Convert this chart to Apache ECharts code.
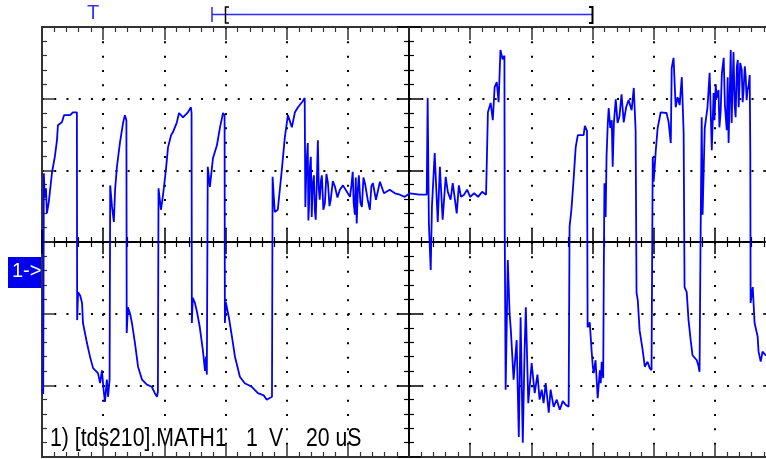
<!DOCTYPE html>
<html lang="en">
<head>
<meta charset="UTF-8" />
<title>tds210 MATH1</title>
<script src="https://cdn.jsdelivr.net/npm/echarts@6/dist/echarts.min.js"></script>
<style>
  * { margin: 0; padding: 0; box-sizing: border-box; }
  html, body { width: 766px; height: 459px; overflow: hidden; background: #fff; }
  /* screen grid is 12 divisions wide, the last few px fall off the window */
  #chart { width: 776px; height: 459px; }
</style>
</head>
<body>
<div id="chart"></div>
<script>
/* ---------- scope settings ---------- */
const timePerDiv = 20;   // uS / div
const timeDivs = 12;
const voltsPerDiv = 1;   // V / div
const voltDivs = 6;
const channelTag = "1->";
const readout = ["1) [tds210].MATH1", "1", "V", "20 uS"];

/* ---------- trace: [time uS, volts] ---------- */
const trace = [
  [0.0,-2.05],[0.4,-2.12],[0.6,0.96],[0.9,0.62],[1.3,0.75],[1.6,0.40],[2.2,0.55],[3.3,0.98],[4.2,1.19],[4.9,1.42],
  [5.2,1.63],[6.5,1.67],[7.2,1.77],[9.2,1.77],[10.1,1.81],[11.4,1.81],
  [11.5,-1.09],[11.8,-0.70],[12.5,-0.75],[13.1,-0.85],[13.4,-1.13],[14.7,-1.41],[15.7,-1.60],[16.7,-1.76],[18.3,-1.83],
  [19.0,-1.97],[19.6,-1.79],[20.1,-2.05],[20.6,-2.23],[21.2,-1.92],[21.6,-2.16],[22.1,-1.92],
  [22.3,0.79],[22.9,0.49],[23.5,0.28],[23.9,0.73],[24.5,1.05],[25.5,1.39],[26.5,1.66],[27.1,1.77],[27.6,1.70],
  [27.7,-1.27],[28.1,-0.91],[28.8,-1.00],[29.4,-1.13],[30.4,-1.41],[31.4,-1.74],[32.7,-1.92],[34.3,-1.99],[35.9,-2.02],
  [36.9,-2.11],[37.6,-2.16],[37.9,-2.09],
  [38.1,0.75],[38.9,0.45],[39.5,0.63],[40.5,1.00],[41.2,1.32],[42.2,1.49],[42.8,1.53],[44.1,1.67],[44.8,1.80],
  [46.1,1.74],[47.7,1.81],[48.7,1.88],[48.9,1.80],
  [49.0,-1.13],[49.3,-0.78],[50.0,-0.85],[50.7,-0.98],[51.6,-1.19],[52.6,-1.51],[53.3,-1.80],[53.6,-1.60],[53.9,-1.85],[54.1,-1.85],
  [54.2,1.05],[54.9,0.77],[55.9,1.17],[57.2,1.35],[58.2,1.60],[59.2,1.80],[59.7,1.77],
  [59.8,-1.13],[60.1,-0.84],[61.1,-1.05],[62.1,-1.32],[63.1,-1.60],[64.7,-1.88],[66.3,-1.97],[68.6,-2.02],[70.6,-2.11],
  [72.5,-2.14],[73.5,-2.20],[75.2,-2.16],
  [75.4,0.91],[76.1,0.42],[77.1,0.45],[78.4,1.00],[79.4,1.46],[80.4,1.77],[81.7,1.60],[82.7,1.81],[83.7,1.88],[85.0,1.95],[85.9,2.01],
  [86.1,0.49],[86.5,1.10],[86.9,1.38],[87.1,0.30],[87.3,0.49],[87.6,1.05],[87.9,1.19],[88.2,0.35],[88.5,0.80],[88.9,0.93],
  [89.2,0.45],[89.5,0.31],[89.9,0.90],[90.2,1.42],[90.5,0.75],[90.8,0.59],[91.2,0.85],[91.5,0.93],[92.0,0.45],[92.5,0.54],
  [93.0,0.95],[93.5,0.82],[94.0,0.50],[94.4,0.59],[95.1,0.85],[95.8,0.77],[96.6,0.62],[97.4,0.73],[98.4,0.79],[99.7,0.70],
  [100.7,0.63],[101.2,0.80],[101.6,0.98],[101.9,0.55],[102.3,0.38],[102.6,0.90],[102.9,0.26],[103.3,0.75],[103.6,0.93],
  [104.1,0.55],[104.6,0.49],[105.1,0.90],[105.6,0.82],[106.5,0.59],[107.2,0.45],[107.7,0.78],[108.2,0.82],[109.2,0.59],
  [110.5,0.84],[111.8,0.68],[113.7,0.73],[115.4,0.68],[117.0,0.66],[118.6,0.63],[120.3,0.68],[123.5,0.66],[125.8,0.66],
  [126.1,2.01],[126.5,0.26],[127.1,-0.39],[127.5,0.49],[128.4,1.24],[129.4,0.28],[130.1,1.05],[131.0,0.31],[132.0,0.91],
  [132.7,0.70],[133.6,0.59],[134.3,0.82],[134.9,0.63],[135.6,0.40],[136.3,0.79],[137.0,0.63],[138.0,0.66],[139.0,0.73],
  [140.0,0.63],[141.3,0.68],[142.6,0.63],[143.9,0.70],[145.2,0.66],[145.6,0.66],
  [145.8,1.81],[146.7,1.94],[147.4,1.70],[148.0,2.16],[148.7,2.23],[149.3,1.95],[149.9,2.68],[150.6,2.55],[151.2,2.60],
  [151.3,0.21],[151.6,-2.06],[152.3,-0.25],[152.9,-1.00],[153.3,-1.23],[154.2,-1.92],[155.2,-1.37],[155.9,-2.72],[156.5,-1.05],
  [157.2,-2.80],[157.8,-1.50],[158.2,-0.91],[159.0,-2.25],[160.1,-1.69],[161.1,-2.11],[162.0,-1.85],[162.7,-2.20],[163.4,-2.06],
  [164.0,-2.25],[164.7,-1.97],[165.7,-2.38],[166.3,-2.06],[167.3,-2.30],[168.3,-2.20],[169.3,-2.34],[170.3,-2.22],[171.2,-2.27],[172.2,-2.30],
  [172.5,0.21],[173.1,0.45],[173.8,0.86],[174.5,1.32],[175.2,1.49],[177.1,1.49],[177.5,1.62],[178.2,1.55],
  [178.4,-1.19],[179.1,-1.12],[179.7,-1.51],[180.1,-1.74],[180.4,-1.83],[181.0,-1.65],[181.7,-2.18],[182.4,-1.79],[182.7,-1.97],
  [183.0,-1.67],[183.5,-1.90],
  [183.7,-0.39],[183.9,0.82],[184.3,0.35],[184.6,1.20],[185.0,1.66],[185.3,1.87],[185.8,1.59],[186.3,1.70],[186.6,1.05],
  [187.0,1.66],[187.6,1.99],[188.2,1.66],[188.8,1.75],[189.5,2.06],[190.2,1.67],[191.0,1.88],[191.8,1.98],[192.8,1.84],
  [193.5,2.15],[194.1,1.56],
  [194.4,-0.71],[194.8,-0.81],[195.4,-1.23],[196.4,-1.51],[197.1,-1.74],[198.0,-1.67],[198.7,-1.76],[199.3,-1.79],[199.6,-1.79],
  [199.7,1.19],[200.0,0.84],[200.7,1.28],[201.3,1.59],[202.3,1.81],[204.2,1.80],[204.9,1.67],[205.6,1.38],[205.9,2.43],
  [206.5,2.57],[207.2,1.88],[207.8,2.02],[208.5,1.91],[209.2,2.30],[209.8,1.52],
  [210.1,-0.63],[210.8,-0.70],[211.4,-1.09],[212.1,-1.37],[212.7,-1.58],[214.1,-1.65],[214.6,-1.72],[215.0,-1.81],
  [215.3,-0.15],[215.7,1.74],[216.0,0.38],[216.7,1.59],[217.6,1.88],[218.3,2.36],[219.0,1.28],[219.6,2.08],[219.9,1.70],
  [220.3,2.20],[220.6,2.01],[221.2,2.12],[221.5,1.60],[221.9,1.81],[222.3,2.35],[222.9,2.57],[223.3,1.90],[223.9,1.56],
  [224.2,2.30],[224.5,1.38],[225.2,2.68],[225.5,1.66],[226.1,2.65],[226.5,1.90],[226.8,1.74],[227.2,2.45],[227.5,2.54],
  [227.8,1.88],[228.3,2.50],[228.8,2.40],[229.1,1.95],[229.4,2.12],[229.8,2.45],[230.1,2.30],[230.4,1.98],[230.7,2.12],
  [231.1,2.20],[231.4,2.33],[231.6,1.24],
  [231.7,-0.85],[232.4,-0.63],[233.0,-1.13],[234.0,-1.32],[234.3,-1.53],[235.0,-1.67],[235.6,-1.53],[236.6,-1.58],[238.0,-1.55]
];

/* ---------- helpers ---------- */
const frame = "#333";
const ink = "#000";
const tMax = timePerDiv * timeDivs;
const vMax = (voltsPerDiv * voltDivs) / 2;
const minorPx = { x: 734 / timeDivs / 5, y: 430 / voltDivs / 5 };

function scopeAxis(o) {
  return Object.assign({
    type: "value",
    axisLabel: { show: false },
    splitLine: { show: false },
    axisTick: { show: true, inside: true, length: 13, lineStyle: { color: frame, width: 1.5 } },
    minorTick: { show: true, splitNumber: 5, length: 5, lineStyle: { color: frame, width: 1.2 } },
    axisLine: { show: true, onZero: false, lineStyle: { color: frame, width: 2 } }
  }, o);
}
const xRange = { min: 0, max: tMax, interval: timePerDiv };
const yRange = { min: -vMax, max: vMax, interval: voltsPerDiv };
const centerTick = (inside) => ({ show: true, inside: inside, length: 12, lineStyle: { color: ink, width: 1.5 } });
const centerMinor = { show: true, splitNumber: 5, length: 5, lineStyle: { color: ink, width: 1.2 } };
const centerLine = (idx) => ({ show: true, onZero: true, onZeroAxisIndex: idx, lineStyle: { color: ink, width: 2 } });
const readoutFont = '25px "Liberation Sans"';

const chart = echarts.init(document.getElementById("chart"), null, { renderer: "canvas" });

chart.setOption({
  animation: false,
  backgroundColor: "#fff",
  grid: { left: 42, top: 27, right: 0, bottom: 2 },
  xAxis: [
    scopeAxis(Object.assign({ position: "bottom",
      splitLine: { show: true, lineStyle: { color: ink, width: 2, type: [2, minorPx.y - 2] } } }, xRange)),
    scopeAxis(Object.assign({ position: "top" }, xRange)),
    scopeAxis(Object.assign({ position: "bottom", axisTick: centerTick(true), axisLine: centerLine(0), minorTick: centerMinor }, xRange)),
    scopeAxis(Object.assign({ position: "bottom", axisTick: centerTick(false), axisLine: centerLine(0), minorTick: centerMinor }, xRange)),
    { type: "value", show: false, min: -tMax / 2, max: tMax / 2 }
  ],
  yAxis: [
    scopeAxis(Object.assign({ position: "left",
      splitLine: { show: true, lineStyle: { color: ink, width: 2, type: [2, minorPx.x - 2] } } }, yRange)),
    scopeAxis(Object.assign({ position: "right" }, yRange)),
    scopeAxis(Object.assign({ position: "left", axisTick: centerTick(true), axisLine: centerLine(4), minorTick: centerMinor }, yRange)),
    scopeAxis(Object.assign({ position: "left", axisTick: centerTick(false), axisLine: centerLine(4), minorTick: centerMinor }, yRange))
  ],
  series: [{
    name: "MATH1",
    type: "line",
    xAxisIndex: 0,
    yAxisIndex: 0,
    data: trace,
    symbol: "none",
    silent: true,
    lineStyle: { color: "#0000ff", width: 1.8 },
    z: 10
  }],
  graphic: [
    { type: "rect", shape: { x: 8, y: 257, width: 33, height: 31 }, style: { fill: "#0000ee" } },
    { type: "text", x: 12, y: 261, style: { text: channelTag, fill: "#fff", font: '20px "Liberation Sans"' } },
    { type: "text", x: 87, y: 3, style: { text: "T", fill: "#3535ff", font: '20px "Liberation Sans"' } },
    { type: "line", shape: { x1: 212, y1: 14.5, x2: 593, y2: 14.5 }, style: { stroke: "#2a2aff", lineWidth: 1.5 } },
    { type: "line", shape: { x1: 212, y1: 7, x2: 212, y2: 22 }, style: { stroke: "#2a2aff", lineWidth: 1.5 } },
    { type: "polyline", shape: { points: [[229, 7], [225.5, 7], [225.5, 23], [229, 23]] }, style: { stroke: ink, lineWidth: 1.5, fill: null } },
    { type: "polyline", shape: { points: [[589, 7], [592.5, 7], [592.5, 23], [589, 23]] }, style: { stroke: ink, lineWidth: 2, fill: null } },
    { type: "text", x: 50, y: 427, scaleX: 0.85, style: { text: readout[0], fill: "#000", font: readoutFont } },
    { type: "text", x: 246, y: 427, scaleX: 0.85, style: { text: readout[1], fill: "#000", font: readoutFont } },
    { type: "text", x: 269, y: 427, scaleX: 0.85, style: { text: readout[2], fill: "#000", font: readoutFont } },
    { type: "text", x: 306, y: 427, scaleX: 0.85, style: { text: readout[3], fill: "#000", font: readoutFont } }
  ]
});
</script>
</body>
</html>
